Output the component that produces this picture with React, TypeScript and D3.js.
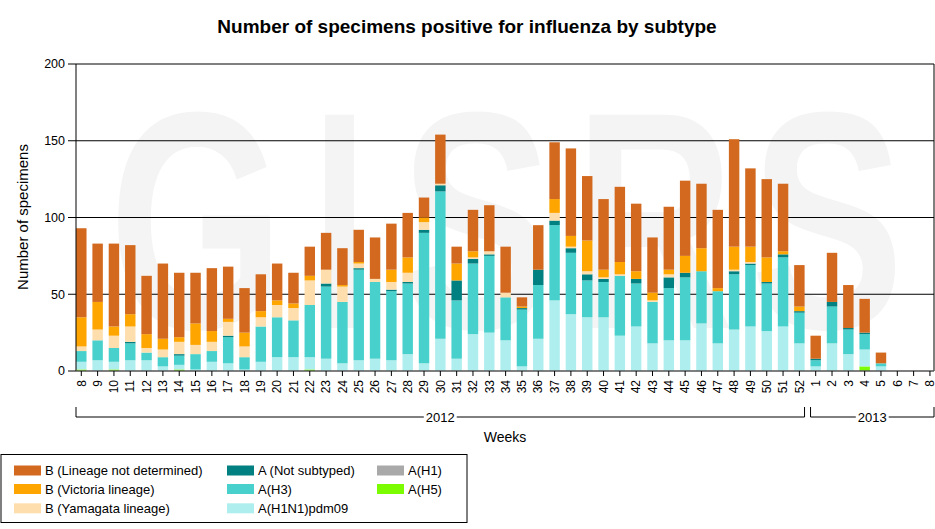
import React from 'react';
import * as d3 from 'd3';

const weekLabels = [
  '8','9','10','11','12','13','14','15','16','17','18','19','20','21','22','23','24','25','26','27',
  '28','29','30','31','32','33','34','35','36','37','38','39','40','41','42','43','44','45','46','47',
  '48','49','50','51','52',
  '1','2','3','4','5','6','7','8'
];
const yearLabels = ['2012', '2013'];
const yearWeekCounts = [45, 8];

const aH1 = new Array(53).fill(0);
const aH5 = [
  1,0,1,0,0,0,1,0,0,0,0,0,0,0,1,0,0,0,0,0,
  0,0,0,0,0,0,0,0,0,0,0,0,0,0,0,0,0,0,0,0,
  0,0,0,0,0,
  0,0,0,3,0,0,0,0
];
const aH1N1pdm09 = [
  5,7,5,7,7,3,3,1,6,5,1,6,9,9,8,8,5,7,8,7,
  11,5,21,8,24,25,20,3,21,46,37,35,35,23,29,18,20,20,31,18,
  27,29,26,29,18,
  3,18,11,11,3,0,0,0
];
const aH3 = [
  7,13,9,11,5,6,6,10,7,17,8,23,26,24,34,47,40,59,50,45,
  46,85,96,38,46,50,28,37,35,49,40,24,23,39,28,27,34,41,34,34,
  36,40,31,45,20,
  4,24,16,10,2,0,0,0
];
const aNotSubtyped = [
  0,0,0,1,0,0,1,0,0,1,0,0,0,0,0,2,0,1,0,1,
  1,2,4,13,3,1,0,1,10,3,3,4,2,0,3,0,7,3,0,0,
  2,1,1,2,1,
  1,3,1,1,0,0,0,0
];
const bYamagata = [
  3,7,8,10,3,5,8,6,6,9,7,6,8,8,16,9,10,3,2,5,
  6,5,1,0,1,2,3,0,0,5,1,2,1,1,0,1,2,0,0,0,
  1,1,0,0,0,
  0,0,0,0,0,0,0,0
];
const bVictoria = [
  19,18,6,8,9,7,3,14,7,2,9,4,3,3,3,0,1,1,0,8,
  10,3,0,11,4,0,0,1,0,9,7,20,5,8,5,5,3,11,15,2,
  15,10,16,2,3,
  0,0,0,0,0,0,0,0
];
const bNotDetermined = [
  58,38,54,45,38,49,42,33,41,34,29,24,24,20,19,24,24,21,27,30,
  29,13,32,11,27,30,30,6,29,37,57,42,46,49,44,36,41,49,42,51,
  70,51,51,44,27,
  15,32,28,22,7,0,0,0
];

const seriesKeys = ['H1', 'H5', 'pdm', 'H3', 'NS', 'Yam', 'Vic', 'Und'];
const seriesValues: Record<string, number[]> = {
  H1: aH1, H5: aH5, pdm: aH1N1pdm09, H3: aH3, NS: aNotSubtyped,
  Yam: bYamagata, Vic: bVictoria, Und: bNotDetermined,
};
const seriesColors: Record<string, string> = {
  Und: '#D2691E', Vic: '#FFA500', Yam: '#FFDEAD',
  NS: '#008080', H3: '#48D1CC', pdm: '#AFEEEE',
  H1: '#A9A9A9', H5: '#7CFC00',
};
const legendColumns = [
  [['Und', 'B (Lineage not determined)'], ['Vic', 'B (Victoria lineage)'], ['Yam', 'B (Yamagata lineage)']],
  [['NS', 'A (Not subtyped)'], ['H3', 'A(H3)'], ['pdm', 'A(H1N1)pdm09']],
  [['H1', 'A(H1)'], ['H5', 'A(H5)']],
];
const yTicks = [0, 50, 100, 150, 200];
const watermarkLetters = ['G', 'I', 'S', 'R', 'S'];

const FONT = '"Liberation Sans", Arial, Helvetica, sans-serif';

export default function App() {
  const W = 935, H = 529;
  const plotL = 76, plotR = 934, plotT = 64, plotB = 371;

  const keys = weekLabels.map((w, i) => `${i}-${w}`);
  const step = 16.32;
  const x = d3.scaleBand<string>()
    .domain(keys)
    .range([81.3 - step / 2, 81.3 - step / 2 + step * keys.length])
    .paddingInner(0.36)
    .paddingOuter(0.18);
  const y = d3.scaleLinear().domain([0, 200]).range([plotB, plotT]);

  const rows = keys.map((k, i) => {
    const r: any = { key: k };
    seriesKeys.forEach((s) => { r[s] = seriesValues[s][i]; });
    return r;
  });
  const stacked = d3.stack<any>().keys(seriesKeys)(rows);
  const center = (i: number) => (x(keys[i]) as number) + x.bandwidth() / 2;

  const brackets: { label: string; x0: number; x1: number }[] = [];
  let start = 0;
  yearLabels.forEach((lab, g) => {
    const end = start + yearWeekCounts[g] - 1;
    const x0 = g === 0 ? plotL : (center(start - 1) + center(start)) / 2 + 3;
    const x1 = g === yearLabels.length - 1 ? plotR : (center(end) + center(end + 1)) / 2 - 3;
    brackets.push({ label: lab, x0, x1 });
    start = end + 1;
  });

  // watermark letter boxes (decorative background)
  const wmX = d3.scaleLinear().domain([0, 1]).range([109, 904]);
  const wmSpans = [[0, 0.22], [0.255, 0.325], [0.366, 0.558], [0.586, 0.786], [0.807, 1]];

  return (
    <svg width={W} height={H} style={{ position: 'absolute', left: 0, top: 0, background: '#fff' }}
      fontFamily={FONT}>
      <rect x={0} y={0} width={W} height={H} fill="#fff" />
      <text x={467} y={33} textAnchor="middle" fontSize={19} fontWeight="bold" fill="#000">
        Number of specimens positive for influenza by subtype
      </text>

      <text fill="#f4f4f4" fontWeight="bold" fontSize={310} y={328}>
        {watermarkLetters.map((ch, i) => (
          <tspan key={i} x={wmX(wmSpans[i][0])}
            textLength={wmX(wmSpans[i][1]) - wmX(wmSpans[i][0])} lengthAdjust="spacingAndGlyphs">{ch}</tspan>
        ))}
      </text>

      {yTicks.filter((t) => t > 0).map((t) => (
        <line key={t} x1={plotL} x2={plotR} y1={y(t)} y2={y(t)} stroke="#000" strokeWidth={1} />
      ))}

      {stacked.map((layer) => (
        <g key={layer.key} fill={seriesColors[layer.key]}>
          {layer.map((d, i) => {
            const h = y(d[0]) - y(d[1]);
            if (h <= 0) return null;
            return <rect key={i} x={x(keys[i])} y={y(d[1])} width={x.bandwidth()} height={h} />;
          })}
        </g>
      ))}

      <line x1={plotL} x2={plotL} y1={plotT} y2={plotB} stroke="#000" />
      <line x1={plotR} x2={plotR} y1={plotT} y2={plotB} stroke="#000" />
      <line x1={plotL} x2={plotR} y1={plotB} y2={plotB} stroke="#555" strokeWidth={1.5} />

      {yTicks.map((t) => (
        <g key={t}>
          <line x1={plotL - 8} x2={plotL} y1={y(t)} y2={y(t)} stroke="#000" />
          <text x={plotL - 11} y={y(t)} dy="0.35em" textAnchor="end" fontSize={12.5} fill="#000">{t}</text>
        </g>
      ))}
      <text transform={`translate(28,217) rotate(-90)`} textAnchor="middle" fontSize={15} fill="#000">
        Number of specimens
      </text>

      {keys.map((k, i) => (
        <g key={k}>
          <line x1={center(i)} x2={center(i)} y1={plotB} y2={plotB + 5} stroke="#000" />
          <text transform={`translate(${center(i)},${plotB + 9}) rotate(-90)`} dy="0.35em"
            textAnchor="end" fontSize={12} fill="#000">{weekLabels[i]}</text>
        </g>
      ))}

      {brackets.map((b) => {
        const cx = (b.x0 + b.x1) / 2;
        const tw = b.label.length * 0.556 * 13;
        return (
          <g key={b.label}>
            <line x1={b.x0} x2={b.x0} y1={407} y2={417} stroke="#000" />
            <line x1={b.x1} x2={b.x1} y1={407} y2={417} stroke="#000" />
            <line x1={b.x0} x2={cx - tw / 2 - 2} y1={417} y2={417} stroke="#000" />
            <line x1={cx + tw / 2 + 2} x2={b.x1} y1={417} y2={417} stroke="#000" />
            <text x={cx} y={422} textAnchor="middle" fontSize={13} fill="#000">{b.label}</text>
          </g>
        );
      })}
      <text x={505} y={442} textAnchor="middle" fontSize={14} fill="#000">Weeks</text>

      <rect x={1} y={454.5} width={466} height={68} fill="#fff" stroke="#000" strokeWidth={1} />
      {legendColumns.map((col, ci) => {
        const sx = [14, 227, 377][ci];
        return col.map(([k, label], ri) => {
          const cy = [470.5, 489, 508.3][ri];
          return (
            <g key={k}>
              <rect x={sx} y={cy - 5} width={27} height={10} fill={seriesColors[k]} />
              <text x={sx + 31} y={cy} dy="0.35em" fontSize={13} fill="#000">{label}</text>
            </g>
          );
        });
      })}
    </svg>
  );
}
